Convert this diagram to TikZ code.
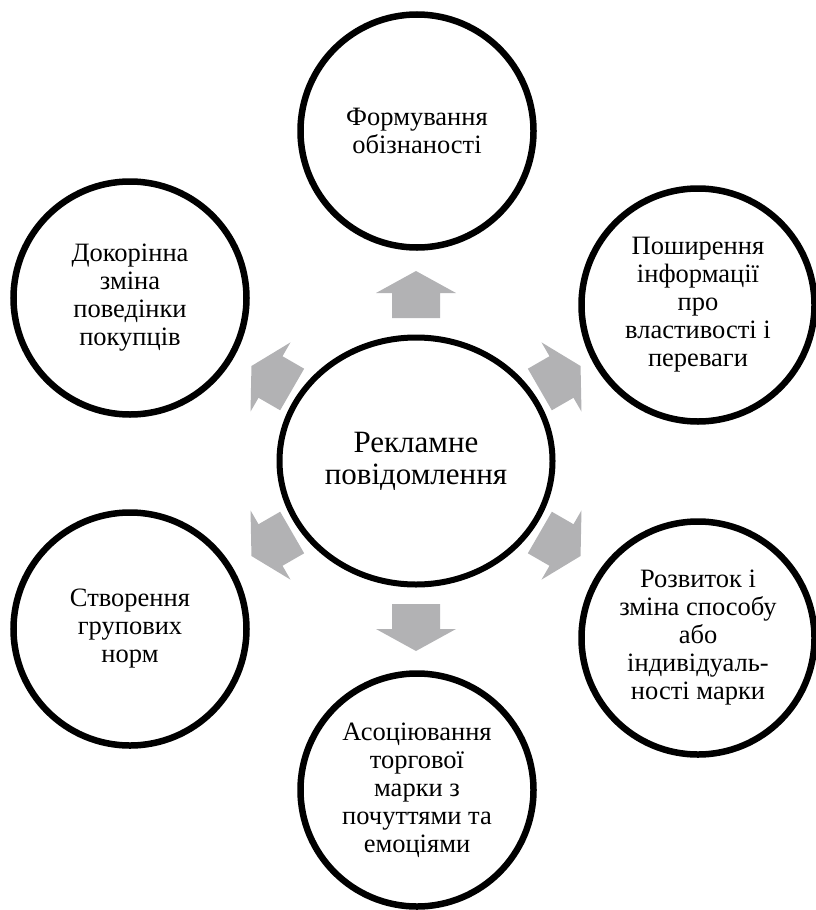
\documentclass[tikz,border=0pt]{standalone}
\usepackage{fontspec}
\setmainfont{Liberation Serif}
\usetikzlibrary{shapes.geometric}
\definecolor{arrowgray}{RGB}{178,178,180}

\tikzset{
  bubble/.style={circle, draw=black, line width=6.5pt, fill=white, minimum size=233pt,
    inner sep=0pt, align=center, font=\fontsize{26.5}{28}\selectfont},
  hub/.style={ellipse, draw=black, line width=6pt, fill=white, minimum width=273pt,
    minimum height=247pt, inner sep=0pt, align=center, font=\fontsize{31}{32}\selectfont},
  blockarrow/.style={fill=arrowgray}
}

\begin{document}
\begin{tikzpicture}[x=1pt,y=1pt]
        \useasboundingbox (0,0) rectangle (816,-910);
        \node[hub] (hub) at (416,-461) {Рекламне\\повідомлення};
        \node[bubble] (aware) at (417,-131) {Формування\\обізнаності};
        \node[bubble] (spread) at (698,-305) {Поширення\\інформації\\про\\властивості і\\переваги};
        \node[bubble] (develop) at (698,-638) {Розвиток і\\зміна способу\\або\\індивідуаль-\\ності марки};
        \node[bubble] (assoc) at (417,-790) {Асоціювання\\торгової\\марки з\\почуттями та\\емоціями};
        \node[bubble] (norms) at (130,-629) {Створення\\групових\\норм};
        \node[bubble] (change) at (130,-298) {Докорінна\\зміна\\поведінки\\покупців};
        % block arrows round the hub
        \foreach \ang in {90,30,-30,-90,-150,150}
          \fill[blockarrow, shift={(hub.center)}, rotate=\ang]
            (143,-24) -- (168,-24) -- (168,-40) -- (190,0) -- (168,40) -- (168,24) -- (143,24) -- cycle;
\end{tikzpicture}
\end{document}
